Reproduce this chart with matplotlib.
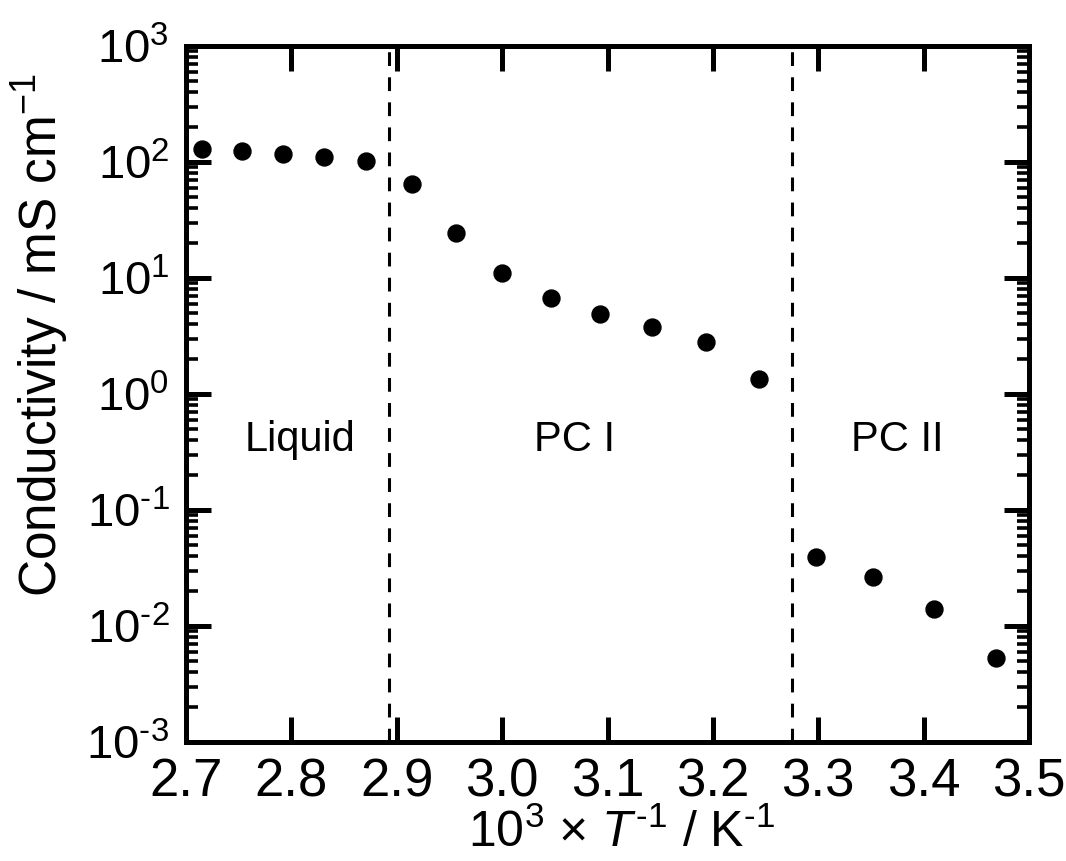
import matplotlib.pyplot as plt
from matplotlib.ticker import LogLocator, FixedLocator
import numpy as np

plt.rcParams['font.family'] = ['Liberation Sans', 'DejaVu Sans']
plt.rcParams['mathtext.fontset'] = 'custom'
plt.rcParams['mathtext.rm'] = 'Liberation Sans'
plt.rcParams['mathtext.it'] = 'Liberation Sans:italic'

# 1000/T (K^-1) and conductivity (mS/cm)
inv_T = [2.715, 2.753, 2.792, 2.831, 2.871, 2.914, 2.956, 3.000, 3.046,
         3.093, 3.142, 3.193, 3.244, 3.298, 3.352, 3.410, 3.469]
sigma = [129, 124, 117, 110, 102, 64.6, 24.4, 11.0, 6.73,
         4.90, 3.78, 2.81, 1.35, 0.0394, 0.0264, 0.0140, 0.0053]

# phase transitions
transitions = [2.893, 3.275]
phases = ['Liquid', 'PC I', 'PC II']
phase_x = [2.808, 3.069, 3.375]

xticks = [2.7, 2.8, 2.9, 3.0, 3.1, 3.2, 3.3, 3.4, 3.5]
exps = [-3, -2, -1, 0, 1, 2, 3]

fig = plt.figure(figsize=(10.66, 8.61), dpi=100)
ax = fig.add_axes([0.1745, 0.1382, 0.9653 - 0.1745, 0.9466 - 0.1382])

ax.plot(inv_T, sigma, 'o', color='black', markersize=12.2, zorder=3)

for t in transitions:
    ax.axvline(t, color='black', lw=2.2, dashes=(4.5, 3.7))

for name, xp in zip(phases, phase_x):
    ax.text(xp, 0.40, name, ha='center', va='center', fontsize=30)

ax.set_yscale('log')
ax.set_xlim(2.7, 3.5)
ax.set_ylim(1e-3, 1e3)

ax.xaxis.set_major_locator(FixedLocator(xticks))
ax.set_xticklabels(['%.1f' % v for v in xticks])
ax.yaxis.set_minor_locator(LogLocator(base=10, subs=np.arange(2, 10), numticks=10))
ax.set_yticks([10.0 ** k for k in exps])
ax.set_yticklabels([r'$10^{%s}$' % (r'\text{-}%d' % -k if k < 0 else '%d' % k) for k in exps])

ax.tick_params(which='both', direction='in', top=True, right=True)
ax.tick_params(which='major', length=18, width=3.6, labelsize=34, pad=12)
ax.tick_params(axis='x', which='major', labelsize=38, pad=11)
ax.tick_params(which='minor', length=8.6, width=2.6)
for s in ax.spines.values():
    s.set_linewidth(3.6)

ax.set_xlabel(r'$10^{3}$ × $\mathit{T}^{\text{-}1}$ / K$^{\text{-}1}$', fontsize=36)
ax.xaxis.set_label_coords(0.517, -0.096)
ax.set_ylabel(r'Conductivity / mS cm$^{−1}$', fontsize=37)
ax.yaxis.set_label_coords(-0.137, 0.585)

fig.savefig('out.png', dpi=100)
